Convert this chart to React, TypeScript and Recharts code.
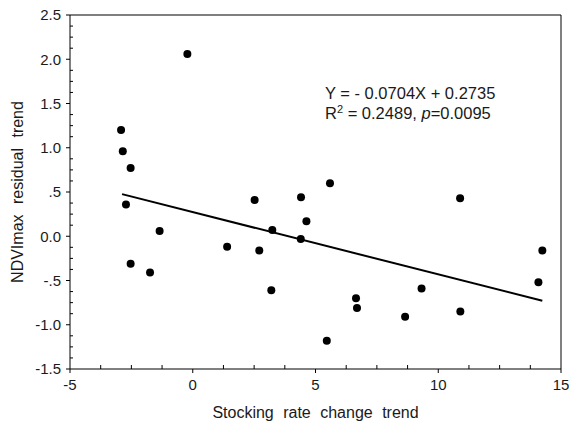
import React from "react";
import { ScatterChart, Scatter, XAxis, YAxis, ReferenceLine } from "recharts";

// stocking rate change trend (x) and NDVImax residual trend (y), one entry per site
const STOCKING_TREND = [
  -0.22, -2.92, -2.85, -2.53, -2.72, -1.35, -2.53, -1.74, 1.4, 2.52, 2.71, 3.24,
  3.2, 4.41, 4.63, 4.4, 5.59, 5.46, 6.65, 6.69, 8.65, 9.32, 10.89, 10.9, 14.24, 14.08,
];
const NDVI_RESIDUAL = [
  2.06, 1.2, 0.96, 0.77, 0.36, 0.06, -0.31, -0.41, -0.12, 0.41, -0.16, 0.07,
  -0.61, 0.44, 0.17, -0.03, 0.6, -1.18, -0.7, -0.81, -0.91, -0.59, 0.43, -0.85,
  -0.16, -0.52,
];

// fitted line Y = -0.0704X + 0.2735, drawn over the x range of the data
const SLOPE = -0.0704;
const INTERCEPT = 0.2735;
const FIT_X = [-2.88, 14.24];

const X_MAJOR = [-5, 0, 5, 10, 15];
const X_LABELS = ["-5", "0", "5", "10", "15"];
const Y_MAJOR = [-1.5, -1, -0.5, 0, 0.5, 1, 1.5, 2, 2.5];
const Y_LABELS = ["-1.5", "-1.0", "-.5", "0.0", ".5", "1.0", "1.5", "2.0", "2.5"];

// minor ticks: 4 steps per major interval
const X_TICKS = Array.from({ length: 17 }, (_, i) => -5 + i * 1.25);
const Y_TICKS = Array.from({ length: 33 }, (_, i) => -1.5 + i * 0.125);

const FONT = "'Liberation Sans', Arial, sans-serif";
const TEXT = "#1a1a1a";

const points = STOCKING_TREND.map((x, i) => ({ x, y: NDVI_RESIDUAL[i] }));
const fitSegment = FIT_X.map((x) => ({ x, y: SLOPE * x + INTERCEPT }));

function XTick(props: any) {
  const { x, y, payload } = props;
  const idx = X_MAJOR.findIndex((v) => Math.abs(v - payload.value) < 1e-6);
  if (idx < 0) {
    return <line x1={x} x2={x} y1={y} y2={y - 4} stroke="#000" />;
  }
  return (
    <g>
      <line x1={x} x2={x} y1={y} y2={y + 4} stroke="#000" />
      <text x={x} y={y + 21} textAnchor="middle" fontSize={15} fontFamily={FONT} fill={TEXT}>
        {X_LABELS[idx]}
      </text>
    </g>
  );
}

function YTick(props: any) {
  const { x, y, payload } = props;
  const idx = Y_MAJOR.findIndex((v) => Math.abs(v - payload.value) < 1e-6);
  if (idx < 0) {
    return <line x1={x} x2={x + 3} y1={y} y2={y} stroke="#000" />;
  }
  return (
    <g>
      <line x1={x - 4} x2={x} y1={y} y2={y} stroke="#000" />
      <text x={x - 9} y={y} dy="0.36em" textAnchor="end" fontSize={15} fontFamily={FONT} fill={TEXT}>
        {Y_LABELS[idx]}
      </text>
    </g>
  );
}

function Dot(props: any) {
  const { cx, cy } = props;
  return <circle cx={cx} cy={cy} r={4} fill="#000" />;
}

export default function App() {
  return (
    <div style={{ position: "absolute", left: 0, top: 0, width: 569, height: 426, background: "#fff" }}>
      <ScatterChart width={569} height={426} margin={{ top: 15, right: 8, bottom: 7, left: 10 }}>
        <XAxis
          type="number"
          dataKey="x"
          domain={[-5, 15]}
          ticks={X_TICKS}
          interval={0}
          tickSize={0}
          tickMargin={0}
          tickLine={false}
          tick={(p: any) => <XTick {...p} />}
          axisLine={{ stroke: "#000" }}
          height={50}
          allowDataOverflow
          label={{
            value: "Stocking rate change trend",
            position: "insideBottom",
            offset: 1,
            style: { fontSize: 16, fontFamily: FONT, fill: TEXT, wordSpacing: 5 },
          }}
        />
        <YAxis
          type="number"
          dataKey="y"
          domain={[-1.5, 2.5]}
          ticks={Y_TICKS}
          interval={0}
          tickSize={0}
          tickMargin={0}
          tickLine={false}
          tick={(p: any) => <YTick {...p} />}
          axisLine={{ stroke: "#000" }}
          width={60}
          allowDataOverflow
          label={{
            value: "NDVImax  residual  trend",
            angle: -90,
            position: "insideLeft",
            offset: 7,
            style: { fontSize: 16, fontFamily: FONT, fill: TEXT, textAnchor: "middle", wordSpacing: 6, whiteSpace: "pre" },
          }}
        />
        <ReferenceLine y={2.5} stroke="#555" strokeWidth={1.5} />
        <ReferenceLine x={15} stroke="#000" />
        <ReferenceLine segment={fitSegment} stroke="#000" strokeWidth={2} />
        <Scatter data={points} shape={(p: any) => <Dot {...p} />} isAnimationActive={false} />
      </ScatterChart>
      <div
        style={{
          position: "absolute",
          left: 325,
          top: 83,
          fontFamily: FONT,
          fontSize: 16.5,
          lineHeight: "20px",
          color: TEXT,
          whiteSpace: "nowrap",
        }}
      >
        <div>Y = - 0.0704X + 0.2735</div>
        <div>
          R<span style={{ fontSize: 11, position: "relative", top: -6 }}>2</span> = 0.2489, <i>p</i>=0.0095
        </div>
      </div>
    </div>
  );
}
